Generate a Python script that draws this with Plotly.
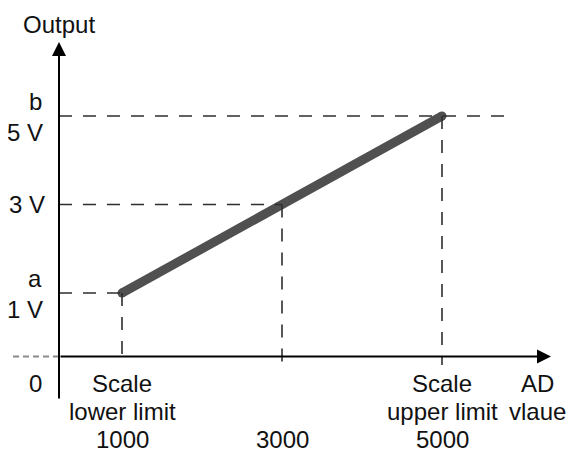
"""
Diagrama: salida analógica vs valor AD (escala lineal entre límites).
"""
import plotly.graph_objects as go

# ── Datos ────────────────────────────────────────────────────────────────────
AD_VALUES = [1000, 3000, 5000]          # valor AD
VOLTS = [1, 3, 5]                       # salida (V)
Y_TICK_TEXT = ["1 V", "3 V", "5 V"]
Y_LETTERS = ["a", "", "b"]
X_CAPTION_TOP = ["Scale", "", "Scale"]
X_CAPTION_MID = ["lower limit", "", "upper limit"]
X_TICK_TEXT = ["1000", "3000", "5000"]

# ── Geometría del dibujo (ejes del esquema, en unidades de datos) ───────────
AXIS_X = 212.5       # donde cruza el eje vertical
AXIS_Y = -0.435      # donde cruza el eje horizontal
X_ARROW_TIP = 6362.5
Y_ARROW_TIP = 6.672
Y_AXIS_BOTTOM = -1.418
X_STUB_START = -362.5
TICK_BELOW = -0.627
TOP_DASH_END = 5800

# la página tiene 8px de margen en body: el rango lo compensa
X_RANGE = [-425, 6837.5]
Y_RANGE = [-2.7966, 7.4407]

C = {
    "line": "#505050",
    "dash": "#2e2e2e",
    "axis": "#000000",
    "stub": "#8a8a8a",
    "text": "#111111",
}
FONT = dict(family="Liberation Sans, Arial, sans-serif", size=24, color=C["text"])

fig = go.Figure()

# Guías punteadas: horizontales hasta el eje Y y verticales hasta el eje X
for i, (x, v) in enumerate(zip(AD_VALUES, VOLTS)):
    x_end = TOP_DASH_END if i == len(VOLTS) - 1 else x
    fig.add_shape(type="line", xref="x", yref="y",
                  x0=AXIS_X, x1=x_end, y0=v, y1=v,
                  line=dict(color=C["dash"], width=1.6, dash="13px,11px"))
    fig.add_shape(type="line", xref="x", yref="y",
                  x0=x, x1=x, y0=v, y1=TICK_BELOW,
                  line=dict(color=C["dash"], width=1.6, dash="13px,11px"))

# Tramo gris a la izquierda del origen
fig.add_shape(type="line", xref="x", yref="y",
              x0=X_STUB_START, x1=AXIS_X, y0=AXIS_Y, y1=AXIS_Y,
              line=dict(color=C["stub"], width=2, dash="6px,4px"))

# Recta de escala (límite inferior -> límite superior)
fig.add_trace(go.Scatter(
    x=[AD_VALUES[0], AD_VALUES[-1]], y=[VOLTS[0], VOLTS[-1]],
    mode="lines+markers",
    line=dict(color=C["line"], width=9),
    marker=dict(color=C["line"], size=9),
    showlegend=False, hoverinfo="skip",
))

# Ejes con flecha
fig.add_annotation(x=X_ARROW_TIP, y=AXIS_Y, ax=AXIS_X, ay=AXIS_Y,
                   xref="x", yref="y", axref="x", ayref="y",
                   text="", showarrow=True, arrowhead=2, arrowsize=1.4,
                   arrowwidth=2, arrowcolor=C["axis"])
fig.add_annotation(x=AXIS_X, y=Y_ARROW_TIP, ax=AXIS_X, ay=Y_AXIS_BOTTOM,
                   xref="x", yref="y", axref="x", ayref="y",
                   text="", showarrow=True, arrowhead=2, arrowsize=1.4,
                   arrowwidth=2, arrowcolor=C["axis"])

# Textos del eje Y
for v, t, letter in zip(VOLTS, Y_TICK_TEXT, Y_LETTERS):
    fig.add_annotation(x=AXIS_X, y=v, text=t, showarrow=False, font=FONT,
                       xanchor="right", xshift=-12 if v == 3 else -14,
                       yshift=0 if v == 3 else -16)
    if letter:
        fig.add_annotation(x=AXIS_X, y=v, text=letter, showarrow=False, font=FONT,
                           xanchor="right", xshift=-15, yshift=15)

fig.add_annotation(x=AXIS_X, y=Y_ARROW_TIP, text="Output", showarrow=False,
                   font=FONT, yshift=18)
fig.add_annotation(x=AXIS_X, y=AXIS_Y, text="0", showarrow=False, font=FONT,
                   xanchor="right", xshift=-15, yshift=-27)

# Textos del eje X
for x, top, mid, t in zip(AD_VALUES, X_CAPTION_TOP, X_CAPTION_MID, X_TICK_TEXT):
    if top:
        fig.add_annotation(x=x, y=AXIS_Y, text=top, showarrow=False, font=FONT, yshift=-27)
        fig.add_annotation(x=x, y=AXIS_Y, text=mid, showarrow=False, font=FONT, yshift=-55)
    fig.add_annotation(x=x, y=AXIS_Y, text=t, showarrow=False, font=FONT, yshift=-83)

fig.add_annotation(x=X_ARROW_TIP, y=AXIS_Y, text="AD", showarrow=False,
                   font=FONT, xshift=-14, yshift=-27)
fig.add_annotation(x=X_ARROW_TIP, y=AXIS_Y, text="vlaue", showarrow=False,
                   font=FONT, xshift=-14, yshift=-55)

fig.update_layout(
    width=581, height=453,
    margin=dict(l=0, r=0, t=0, b=0),
    paper_bgcolor="white", plot_bgcolor="white",
    showlegend=False,
    xaxis=dict(range=X_RANGE, visible=False, fixedrange=True),
    yaxis=dict(range=Y_RANGE, visible=False, fixedrange=True),
)

fig.write_html("out.html")
